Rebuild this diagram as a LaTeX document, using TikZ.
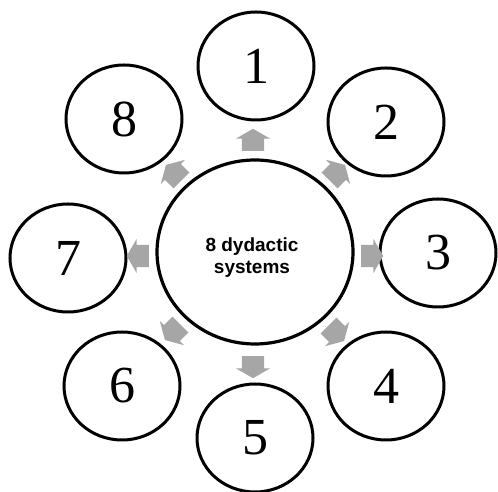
\documentclass[tikz,border=0pt]{standalone}
\usepackage{fontspec}
\setmainfont{Liberation Serif}
\newfontfamily\labelfont{Liberation Sans}
\usepackage{tikz}
\usetikzlibrary{shapes.geometric,shapes.arrows}
\tikzstyle{hub} = [ellipse, minimum width=196pt, minimum height=184pt, inner sep=0pt, line width=3.2pt, draw=black]
\tikzstyle{hubtext} = [align=center, inner sep=0pt, font=\labelfont\bfseries\fontsize{19}{22}\selectfont]
\tikzstyle{system} = [ellipse, minimum width=116pt, minimum height=108pt, inner sep=0pt, line width=3pt, draw=black, font=\fontsize{52}{60}\selectfont]
\tikzstyle{blockarrow} = [single arrow, fill=gray!70, draw=none, inner xsep=0pt, inner ysep=11pt, minimum height=22pt, single arrow head extend=6pt, single arrow tip angle=120]

\begin{document}
\begin{tikzpicture}[x=1pt, y=1pt]
\useasboundingbox (0,0) rectangle (498,492);

\node (hub) [hub] at (255,240) {};
\node (title) [hubtext] at (252,234) {8 dydactic\\systems};

\node (s1) [system] at (256,426) {1};
\node (s2) [system] at (386,370) {2};
\node (s3) [system] at (438,239) {3};
\node (s4) [system] at (386,106) {4};
\node (s5) [system] at (255,54) {5};
\node (s6) [system] at (122,106) {6};
\node (s7) [system] at (68,234) {7};
\node (s8) [system] at (124,373) {8};

\node (a1) [blockarrow, rotate=90] at (253,349) {};
\node (a2) [blockarrow, rotate=45] at (335,317) {};
\node (a3) [blockarrow, rotate=0] at (369,236) {};
\node (a4) [blockarrow, rotate=-45] at (334,161) {};
\node (a5) [blockarrow, rotate=-90] at (253,128) {};
\node (a6) [blockarrow, rotate=-135] at (175,162) {};
\node (a7) [blockarrow, rotate=180] at (141,236) {};
\node (a8) [blockarrow, rotate=135] at (176,317) {};
\end{tikzpicture}
\end{document}
